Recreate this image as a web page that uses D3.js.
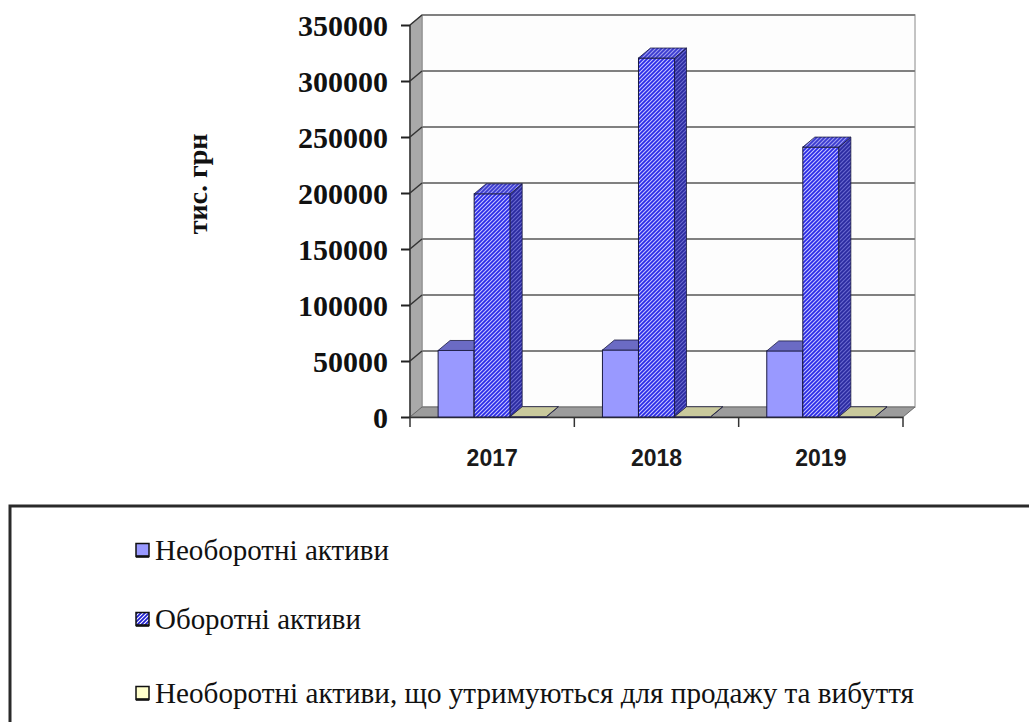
<!DOCTYPE html>
<html><head><meta charset="utf-8">
<script src="https://cdn.jsdelivr.net/npm/d3@7"></script>
<style>html,body{margin:0;padding:0;background:#fff;}svg{display:block;}</style>
</head><body>
<svg id="c" width="1029" height="722"></svg>
<script>
const categories = ["2017", "2018", "2019"];
const seriesNames = ["Необоротні активи", "Оборотні активи", "Необоротні активи, що утримуються для продажу та вибуття"];
const nonCurrentAssets = [59400, 59800, 59000];
const currentAssets = [199300, 320500, 241000];
const heldForSale = [300, 250, 200];
const yTicks = [0, 50000, 100000, 150000, 200000, 250000, 300000, 350000];
const yAxisTitle = "тис. грн";

const series = [nonCurrentAssets, currentAssets, heldForSale];
const svg = d3.select("#c");
const DX = 12, DY = -10;
const y = d3.scaleLinear().domain([0, 350000]).range([417, 25]);
const x0 = d3.scaleBand().domain(categories).range([410, 903]).padding(0);
const x1 = d3.scaleBand().domain(d3.range(3)).range([0, x0.bandwidth()]).paddingInner(0).paddingOuter(0.78);

const defs = svg.append("defs");
function hatch(id, bg, fg) {
  const p = defs.append("pattern").attr("id", id).attr("patternUnits", "userSpaceOnUse")
    .attr("width", 4).attr("height", 4);
  p.append("rect").attr("width", 4).attr("height", 4).attr("fill", bg);
  p.append("path").attr("d", "M-1,1 l2,-2 M0,4 l4,-4 M3,5 l2,-2").attr("stroke", fg).attr("stroke-width", 1.1);
}
hatch("hFront", "#2a2ae8", "#c4c4ff");
hatch("hTop", "#3a3ad0", "#a0a0f0");
hatch("hSide", "#2a2aa0", "#6a6ad0");
hatch("hSw", "#2020d0", "#ffffff");

const x3 = x0.range()[0], x4 = x0.range()[1];
const y0 = y(0), yTop = y(350000);
svg.append("rect").attr("x", x3 + DX).attr("y", yTop + DY).attr("width", x4 - x3).attr("height", y0 - yTop)
  .attr("fill", "#fdfdfd").attr("stroke", "#b0b0b0").attr("stroke-width", 1.5);
svg.append("path").attr("d", `M${x3},${yTop} L${x3 + DX},${yTop + DY} L${x3 + DX},${y0 + DY} L${x3},${y0} Z`)
  .attr("fill", "#a9a9a9").attr("stroke", "#8a8a8a").attr("stroke-width", 1);
yTicks.filter(t => t > 0).forEach(t => {
  svg.append("line").attr("x1", x3 + DX).attr("x2", x4 + DX).attr("y1", y(t) + DY).attr("y2", y(t) + DY)
    .attr("stroke", "#808080").attr("stroke-width", 2);
  svg.append("line").attr("x1", x3).attr("x2", x3 + DX).attr("y1", y(t)).attr("y2", y(t) + DY)
    .attr("stroke", "#333").attr("stroke-width", 1.5);
});
svg.append("path").attr("d", `M${x3},${y0} L${x4},${y0} L${x4 + DX},${y0 + DY} L${x3 + DX},${y0 + DY} Z`)
  .attr("fill", "#9c9c9c").attr("stroke", "#6a6a6a").attr("stroke-width", 1);
svg.append("line").attr("x1", x3).attr("x2", x4).attr("y1", y0 + 0.5).attr("y2", y0 + 0.5).attr("stroke", "#333").attr("stroke-width", 1.5);

const styles = [
  { front: "#9999ff", top: "#6b6bc4", side: "#5050a8" },
  { front: "url(#hFront)", top: "url(#hTop)", side: "url(#hSide)" },
  { front: "#d0d0a8", top: "#c9c99c", side: "#a8a880" }
];
categories.forEach((c, ci) => {
  series.forEach((s, si) => {
    const v = s[ci];
    const xl = x0(c) + x1(si), xr = xl + x1.bandwidth();
    const yt = y(v), yb = y(0);
    const st = styles[si];
    const g = svg.append("g");
    g.append("rect").attr("x", xl).attr("y", yt).attr("width", xr - xl).attr("height", Math.max(0, yb - yt))
      .attr("fill", st.front).attr("stroke", "#1a1a40").attr("stroke-width", 1);
    g.append("path").attr("d", `M${xr},${yt} L${xr + DX},${yt + DY} L${xr + DX},${yb + DY} L${xr},${yb} Z`)
      .attr("fill", st.side).attr("stroke", "#1a1a40").attr("stroke-width", 0.8);
    g.append("path").attr("d", `M${xl},${yt} L${xl + DX},${yt + DY} L${xr + DX},${yt + DY} L${xr},${yt} Z`)
      .attr("fill", st.top).attr("stroke", "#1a1a40").attr("stroke-width", 0.8);
  });
});

svg.append("line").attr("x1", x3).attr("x2", x3).attr("y1", yTop).attr("y2", y0).attr("stroke", "#333").attr("stroke-width", 1.5);
const ya = svg.append("g").attr("transform", `translate(${x3},0)`)
  .call(d3.axisLeft(y).tickValues(yTicks).tickSize(9).tickPadding(13).tickFormat(d3.format("d")));
ya.select(".domain").remove();
ya.selectAll(".tick line").attr("stroke", "#222").attr("stroke-width", 2);
ya.selectAll(".tick text").attr("font-family", "'Liberation Serif', serif").attr("font-weight", "bold")
  .attr("font-size", 30).attr("fill", "#111").attr("dy", "0.34em");

const xa = svg.append("g").attr("transform", `translate(0,${y0})`)
  .call(d3.axisBottom(x0).tickSize(0).tickPadding(33));
xa.select(".domain").remove();
xa.selectAll(".tick text").attr("font-family", "'Liberation Sans', sans-serif").attr("font-weight", "bold")
  .attr("font-size", 23).attr("fill", "#1a1a1a");
const bounds = [...categories.map(c => x0(c)), x4];
svg.selectAll(".xtick").data(bounds).join("line").attr("class", "xtick")
  .attr("x1", d => d).attr("x2", d => d).attr("y1", y0).attr("y2", y0 + 10)
  .attr("stroke", "#333").attr("stroke-width", 1.5);

svg.append("text").attr("transform", "translate(207,184) rotate(-90)").attr("text-anchor", "middle")
  .attr("font-family", "'Liberation Serif', serif").attr("font-weight", "bold").attr("font-size", 28)
  .attr("fill", "#111").text(yAxisTitle);

svg.append("path").attr("d", "M10,730 L10,506 L1035,506").attr("fill", "none").attr("stroke", "#2a2a2a").attr("stroke-width", 3);
const legY = [550, 619, 693];
const swFill = ["#9999ff", "url(#hSw)", "#ffffcc"];
const textLens = [234, 206, 759];
seriesNames.forEach((n, i) => {
  svg.append("rect").attr("x", 136).attr("y", legY[i] - 6.5).attr("width", 13).attr("height", 13)
    .attr("fill", swFill[i]).attr("stroke", "#111").attr("stroke-width", 1.5);
  svg.append("line").attr("x1", 136).attr("x2", 149).attr("y1", legY[i] + 6.5).attr("y2", legY[i] + 6.5)
    .attr("stroke", "#111").attr("stroke-width", 2.5);
  svg.append("text").attr("x", 155).attr("y", legY[i] + 10).attr("font-family", "'Liberation Serif', serif")
    .attr("font-size", 30).attr("fill", "#111").attr("textLength", textLens[i]).attr("lengthAdjust", "spacingAndGlyphs").text(n);
});
</script>
</body></html>
